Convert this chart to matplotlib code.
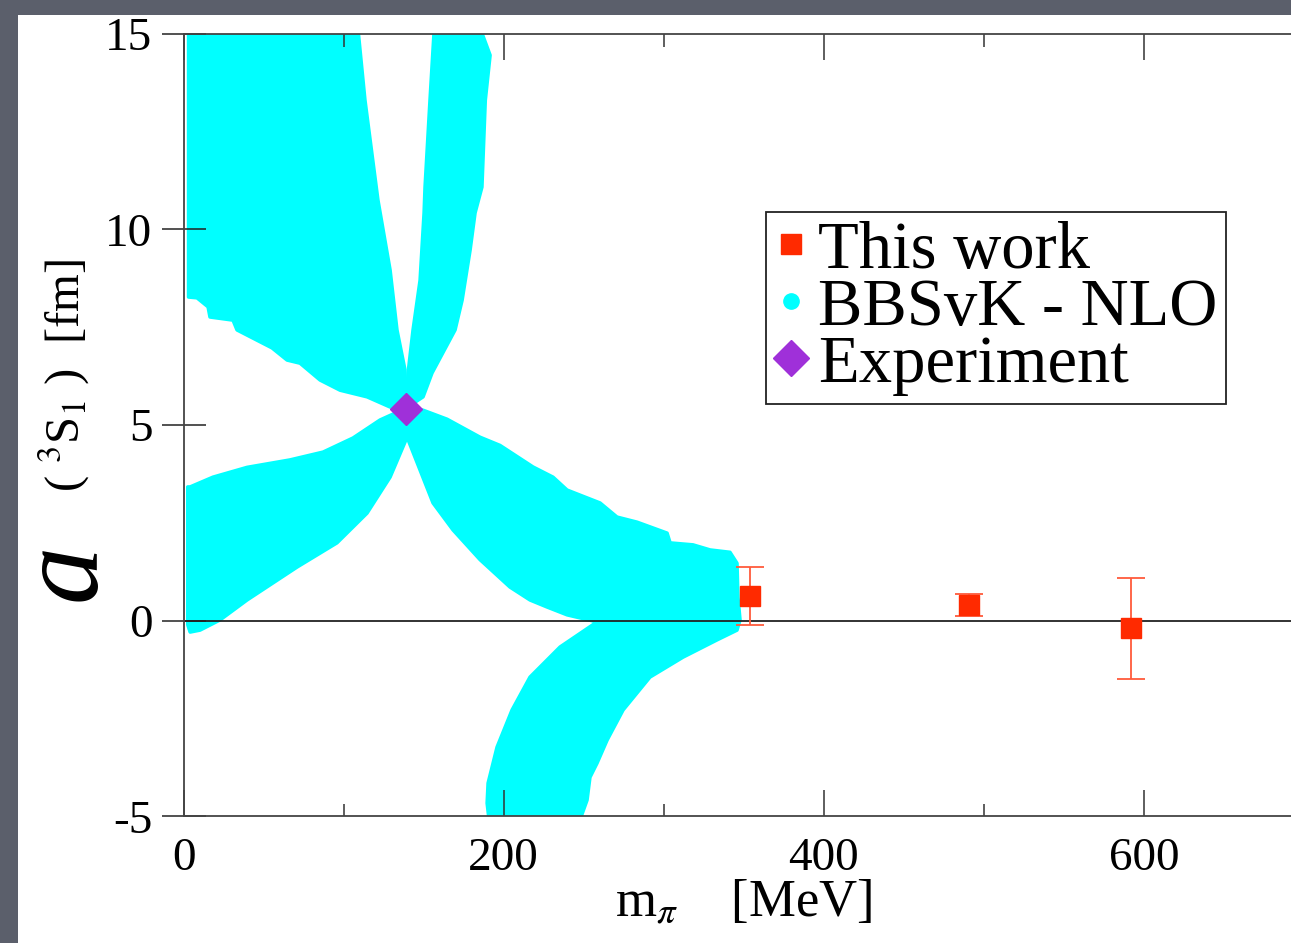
import matplotlib.pyplot as plt
from matplotlib.patches import Rectangle
from matplotlib.lines import Line2D
from matplotlib.ticker import MultipleLocator

plt.rcParams["font.family"] = ["Liberation Serif", "DejaVu Serif"]
plt.rcParams["mathtext.fontset"] = "stix"

# ======= lattice results (This work) =======
m_lat = [354, 491, 592]
a_lat = [0.64, 0.41, -0.19]
a_err = [0.74, 0.28, 1.29]

# ======= experiment =======
m_exp = [139]
a_exp = [5.42]

# ======= BBSvK - NLO bands (outline of the scatter cloud) =======
band1_m = [3.0, 108.0, 113.3, 121.4, 129.0, 133.3, 138.3, 138.9, 129.0, 114.6, 97.7,
           85.2, 72.7, 64.6, 55.2, 33.3, 30.8, 16.4, 15.2, 8.3, 3.0]
band1_a = [15.5, 15.5, 13.3, 10.75, 8.96, 7.43, 6.41, 5.43, 5.46, 5.72, 5.89,
           6.15, 6.58, 6.66, 6.97, 7.43, 7.68, 7.76, 8.02, 8.25, 8.27]

band2_m = [138.9, 140.2, 143.3, 147.7, 150.2, 150.8, 153.9, 157.1, 182.0, 191.5,
           188.5, 186.4, 182.1, 179.0, 174.0, 169.6, 155.2, 149.6]
band2_a = [5.43, 6.33, 7.43, 8.70, 10.42, 11.08, 13.30, 15.5, 15.5, 14.45,
           13.3, 11.08, 10.42, 9.47, 8.19, 7.43, 6.33, 5.72]

band3_m = [2.5, 4.0, 18.3, 39.6, 66.4, 87.1, 105.8, 122.7, 138.9, 139.6, 129.0,
           114.6, 95.8, 70.8, 39.6, 22.7, 10.2, 4.0, 2.5]
band3_a = [3.42, 3.42, 3.67, 3.92, 4.11, 4.31, 4.67, 5.13, 5.43, 4.69, 3.67,
           2.75, 1.99, 1.37, 0.53, 0.02, -0.24, -0.29, -0.1]

band4_m = [138.9, 149.6, 164.6, 185.2, 197.7, 218.3, 230.8, 239.6, 247.7, 260.2,
           270.8, 283.3, 302.1, 304.0, 318.3, 329.0, 341.4, 345.8, 346.4, 347.7,
           345.8, 333.3, 312.1, 291.4, 274.6, 264.6, 258.3, 253.9, 252.1, 245.8,
           191.4, 189.6, 190.2, 195.8, 205.2, 216.4, 235.2, 258.3, 239.6, 227.1,
           216.4, 203.9, 185.2, 168.3, 155.8, 147.7, 139.6]
band4_a = [5.43, 5.38, 5.15, 4.69, 4.48, 3.93, 3.67, 3.34, 3.21, 3.01,
           2.65, 2.52, 2.24, 1.99, 1.94, 1.81, 1.75, 1.47, 0.60, 0.02,
           -0.24, -0.49, -0.93, -1.44, -2.28, -3.05, -3.64, -4.00, -4.58, -5.3,
           -5.3, -4.66, -4.15, -3.23, -2.28, -1.44, -0.67, -0.03, 0.15, 0.35,
           0.53, 0.86, 1.56, 2.32, 3.01, 3.85, 4.69]

cyan = "#00ffff"
red = "#ff2a00"
purple = "#9f30d9"

fig = plt.figure(figsize=(12.91, 9.43), dpi=100, facecolor="#5b5f6b")
fig.patches.append(Rectangle((18 / 1291, 0), 1.0, 1 - 15 / 943,
                             transform=fig.transFigure, facecolor="white",
                             edgecolor="none", zorder=-10))

ax = fig.add_axes([0.1423, 0.1342, 0.8676, 0.8301])

for bm, ba in [(band1_m, band1_a), (band2_m, band2_a),
               (band3_m, band3_a), (band4_m, band4_a)]:
    ax.fill(bm, ba, facecolor=cyan, edgecolor=cyan, linewidth=2.5,
            joinstyle="round", zorder=1)

ax.axhline(0, color="#222222", linewidth=1.3, zorder=2)

ax.errorbar(m_lat, a_lat, yerr=a_err, fmt="none", ecolor="#ff5a3c",
            elinewidth=1.3, capsize=10, capthick=1.3, zorder=3)
ax.plot(m_lat, a_lat, "s", color=red, markersize=15, zorder=4)
ax.plot(m_exp, a_exp, "D", color=purple, markersize=16, zorder=5)

ax.set_xlim(0, 700)
ax.set_ylim(-5, 15)
ax.xaxis.set_major_locator(MultipleLocator(200))
ax.xaxis.set_minor_locator(MultipleLocator(100))

ax.tick_params(axis="y", which="major", direction="inout", length=31, width=1.1,
               pad=7, labelsize=34, right=False, color="#222222")
ax.tick_params(axis="x", which="major", direction="in", length=19, width=1.1,
               pad=15, labelsize=34, top=True, color="#333333")
ax.tick_params(axis="x", which="minor", direction="in", length=9, width=1.1,
               top=True, color="#333333")
ax.set_yticks([-5, 0, 5, 10, 15])
ax.set_yticklabels(["-5", "0", "5", "10", "15"])
for sp in ax.spines.values():
    sp.set_color("#444444")
    sp.set_linewidth(1.3)

# ======= axis labels =======
fig.text(743.7 / 1291, 1 - 903 / 943, "m$_\\pi$    [MeV]", fontsize=38,
         ha="center", va="center")
fig.text(67 / 1291, 1 - 572 / 943, "a", fontsize=84, style="italic",
         rotation=90, ha="center", va="center")
fig.text(64 / 1291, 1 - 376 / 943, "( $^3$S$_1$ )  [fm]", fontsize=35,
         rotation=90, ha="center", va="center")

# ======= legend =======
handles = [
    Line2D([], [], linestyle="none", marker="s", color=red, markersize=15),
    Line2D([], [], linestyle="none", marker="o", color=cyan, markersize=11),
    Line2D([], [], linestyle="none", marker="D", color=purple, markersize=18),
]
labels = ["This work", "BBSvK - NLO", "Experiment"]
leg = ax.legend(handles, labels, loc="upper left",
                bbox_to_anchor=((766 - 183.7) / 1120, (816.4 - 212) / 782.8),
                fontsize=48, frameon=True, fancybox=False, framealpha=1,
                edgecolor="#222222", borderpad=0.13, labelspacing=-0.06,
                handlelength=0.5, handletextpad=0.15, borderaxespad=0)
leg.get_frame().set_linewidth(1.3)

fig.savefig("out.png", dpi=100, facecolor=fig.get_facecolor())
